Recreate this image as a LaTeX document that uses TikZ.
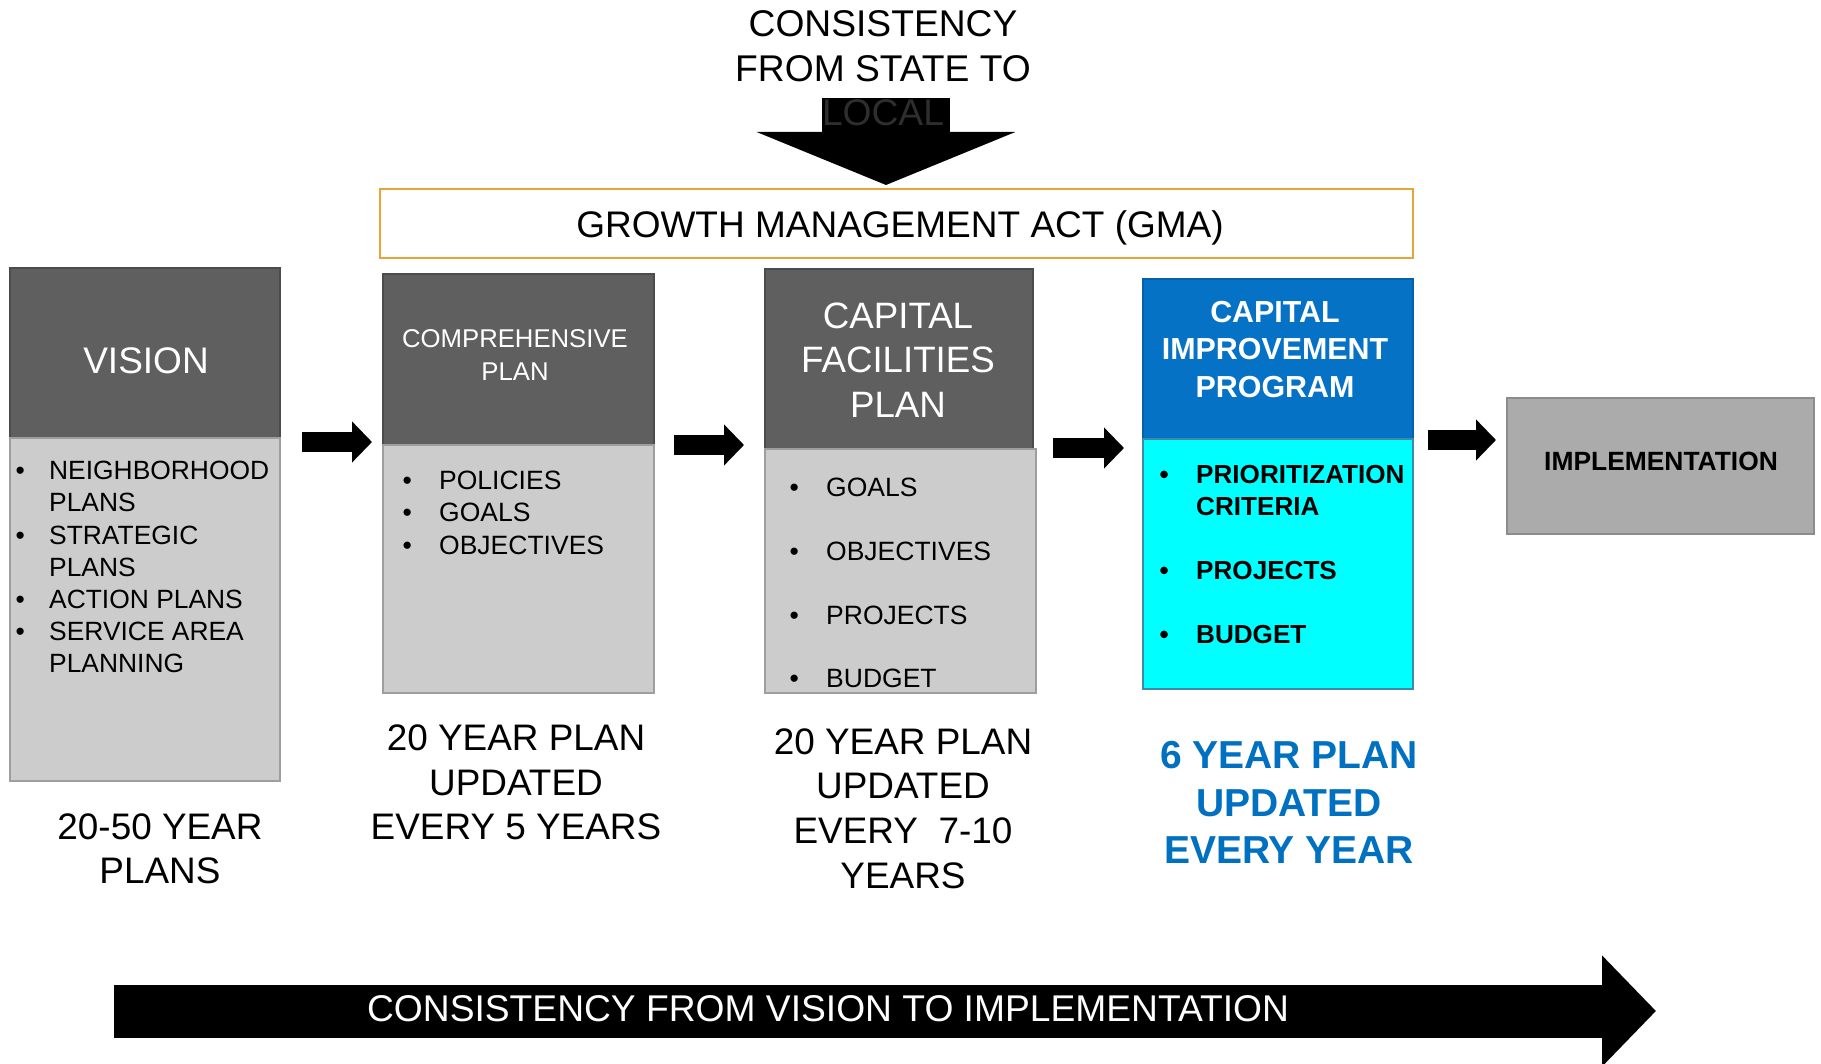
\documentclass[tikz,border=0pt]{standalone}
\usepackage{fontspec}
\setmainfont{Liberation Sans}
\usetikzlibrary{arrows.meta}
\definecolor{hdrgray}{HTML}{5F5F5F}
\definecolor{bodygray}{HTML}{CCCCCC}
\definecolor{impgray}{HTML}{ABABAB}
\definecolor{cipblue}{RGB}{6,114,198}
\definecolor{capblue}{HTML}{0070C0}
\definecolor{cyanfill}{HTML}{00FFFF}
\definecolor{gmaorange}{HTML}{E8A33D}
\newcommand\bul[1]{\makebox[#1][l]{\textbullet}}
\begin{document}
\begin{tikzpicture}[x=1pt,y=-1pt,
  boxbase/.style={anchor=north west, inner sep=0pt, outer sep=0pt, line width=1.5pt},
  hdrbox/.style={boxbase, fill=hdrgray, draw=hdrgray!80!black},
  bodybox/.style={boxbase, fill=bodygray, draw=black!38},
  ciphead/.style={boxbase, fill=cipblue, draw=cipblue!85!black},
  cipbody/.style={boxbase, fill=cyanfill, draw=black!35!cyan},
  impbox/.style={boxbase, fill=impgray, draw=black!45},
  gmabox/.style={boxbase, fill=white, draw=gmaorange, line width=2.5pt},
  hdrtxt/.style={text=white, align=center, inner sep=0pt},
  listtxt/.style={anchor=north west, align=left, inner sep=0pt},
  captxt/.style={align=center, inner sep=0pt},
  blk/.style={line width=20pt, -{Triangle[length=20pt,width=40pt]}},
]
\useasboundingbox (0,0) rectangle (1821,1064);
\fill[white] (0,0) rectangle (1821,1064);

% top arrow from state to local
\coordinate (dtop) at (886,98);
\node[gmabox, minimum width=1033pt, minimum height=69pt] (gma) at (380,189) {};
\draw[line width=128pt, -{Triangle[length=53pt,width=257pt]}] (dtop) -- ([yshift=4pt]dtop |- gma.north);
\node[captxt, font=\fontsize{37.2}{44.5}\selectfont] (toptxt) at (883,68.5)
  {CONSISTENCY\\FROM STATE TO\\\textcolor{black!82}{LOCAL}};
\node[inner sep=0pt, anchor=base, font=\fontsize{37}{44}\selectfont] (gmatxt) at (900,237.5) {GROWTH MANAGEMENT ACT (GMA)};

% Vision
\node[hdrbox, minimum width=270pt, minimum height=170pt] (vish) at (10,268) {};
\node[bodybox, minimum width=270pt, minimum height=343pt] (visb) at (10,438) {};
\node[hdrtxt, font=\fontsize{37}{44}\selectfont] (vist) at (146,361) {VISION};
\node[listtxt, font=\fontsize{26.4}{32.2}\selectfont] (visl) at (15.4,461)
  {\bul{33.6pt}NEIGHBORHOOD\\\hspace*{33.6pt}PLANS\\\bul{33.6pt}STRATEGIC\\\hspace*{33.6pt}PLANS\\\bul{33.6pt}ACTION PLANS\\\bul{33.6pt}SERVICE AREA\\\hspace*{33.6pt}PLANNING};
\node[captxt, font=\fontsize{36.9}{44}\selectfont] (visc) at (160,849) {20-50 YEAR\\PLANS};

% Comprehensive plan
\node[hdrbox, minimum width=271pt, minimum height=171pt] (comh) at (383,274) {};
\node[bodybox, minimum width=271pt, minimum height=248pt] (comb) at (383,445) {};
\node[hdrtxt, font=\fontsize{25.7}{33}\selectfont] (comt) at (515,355.5) {COMPREHENSIVE\\PLAN};
\node[listtxt, font=\fontsize{26.5}{32.5}\selectfont] (coml) at (402.4,470.5)
  {\bul{36.6pt}POLICIES\\\bul{36.6pt}GOALS\\\bul{36.6pt}OBJECTIVES};
\node[captxt, font=\fontsize{36.9}{44.5}\selectfont] (comc) at (516,782.5) {20 YEAR PLAN\\UPDATED\\EVERY 5 YEARS};

% Capital facilities plan
\node[hdrbox, minimum width=268pt, minimum height=180pt] (cfph) at (765,269) {};
\node[bodybox, minimum width=271pt, minimum height=244pt] (cfpb) at (765,449) {};
\node[hdrtxt, font=\fontsize{36.7}{44.5}\selectfont] (cfpt) at (898,360) {CAPITAL\\FACILITIES\\PLAN};
\node[listtxt, font=\fontsize{26.5}{63.7}\selectfont] (cfpl) at (789.4,478)
  {\bul{36.6pt}GOALS\\\bul{36.6pt}OBJECTIVES\\\bul{36.6pt}PROJECTS\\\bul{36.6pt}BUDGET};
\node[captxt, font=\fontsize{36.9}{44.7}\selectfont] (cfpc) at (903,808.5) {20 YEAR PLAN\\UPDATED\\EVERY\ \ 7-10\\YEARS};

% Capital improvement program
\node[ciphead, minimum width=270pt, minimum height=160pt] (ciph) at (1143,279) {};
\node[cipbody, minimum width=270pt, minimum height=250pt] (cipb) at (1143,439) {};
\node[hdrtxt, font=\bfseries\fontsize{30.4}{37.5}\selectfont] (cipt) at (1275,349.5) {CAPITAL\\IMPROVEMENT\\PROGRAM};
\node[listtxt, font=\bfseries\fontsize{26.1}{32}\selectfont] (cipl) at (1159.4,464.6)
  {\bul{36.6pt}PRIORITIZATION\\\hspace*{36.6pt}CRITERIA\\[32pt]\bul{36.6pt}PROJECTS\\[32pt]\bul{36.6pt}BUDGET};
\node[captxt, text=capblue, font=\bfseries\fontsize{39}{47.5}\selectfont] (cipc) at (1289,802.5) {6 YEAR PLAN\\UPDATED\\EVERY YEAR};

% Implementation
\node[impbox, minimum width=307pt, minimum height=136pt] (imp) at (1507,398) {};
\node[inner sep=0pt, font=\bfseries\fontsize{26.4}{32}\selectfont] (impt) at (1661,461) {IMPLEMENTATION};

% arrows between stages
\coordinate (a1s) at (302,442); \coordinate (a1e) at (372,442);
\coordinate (a2s) at (674,445); \coordinate (a2e) at (744,445);
\coordinate (a3s) at (1053,448); \coordinate (a3e) at (1124,448);
\coordinate (a4s) at (1428,440); \coordinate (a4e) at (1496,440);
\draw[blk] (a1s) -- (a1e);
\draw[blk] (a2s) -- (a2e);
\draw[blk] (a3s) -- (a3e);
\draw[blk] (a4s) -- (a4e);

% bottom arrow
\coordinate (bs) at (114,1011); \coordinate (be) at (1656,1011);
\draw[line width=53pt, -{Triangle[length=54pt,width=108pt]}] (bs) -- (be);
\node[inner sep=0pt, text=white, font=\fontsize{37.2}{44}\selectfont] (btxt) at (828,1009) {CONSISTENCY FROM VISION TO IMPLEMENTATION};
\end{tikzpicture}
\end{document}
